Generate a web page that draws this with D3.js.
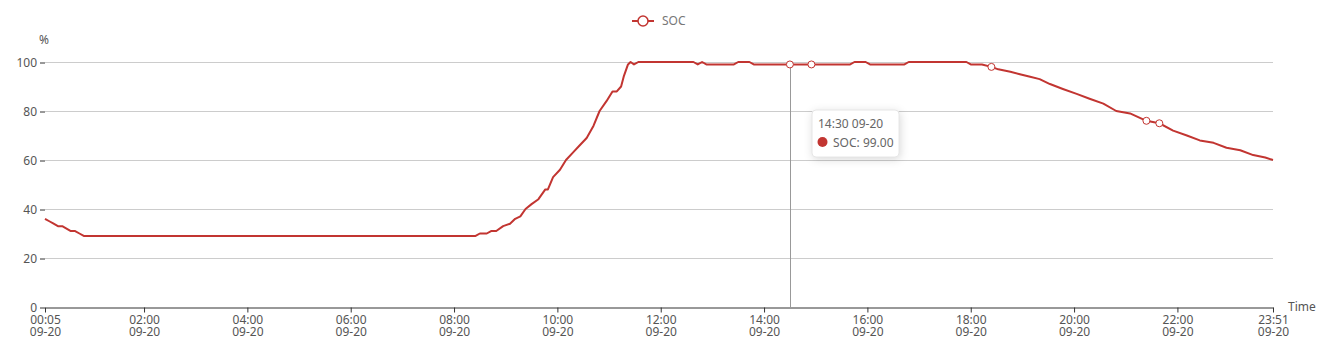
<!DOCTYPE html>
<html>
<head>
<meta charset="utf-8">
<script src="https://cdn.jsdelivr.net/npm/d3@7"></script>
<style>
  html, body { margin: 0; padding: 0; background: #fff; }
  svg { display: block; font-family: "Noto Sans", "DejaVu Sans", sans-serif; }
</style>
</head>
<body>
<div id="container"></div>
<script>
// SOC readings (time of day, percent)
const times = [
  "00:05","00:10","00:15","00:20","00:25","00:30","00:35","00:40","00:45","00:50",
  "08:25","08:30","08:38","08:43","08:49","08:57","09:05","09:11","09:17","09:23",
  "09:30","09:38","09:46","09:49","09:55","10:03","10:10","10:18","10:26","10:34",
  "10:42","10:49","10:57","11:04","11:09","11:14","11:17","11:22","11:25","11:29",
  "11:34","12:38","12:43","12:48","12:53","13:25","13:30","13:43","13:48","14:30",
  "14:55","15:40","15:45","15:58","16:03","16:43","16:48","17:55","18:00","18:13",
  "18:24","18:32","18:46","18:57","19:09","19:20","19:32","19:47","20:03","20:18",
  "20:34","20:49","21:05","21:24","21:39","21:55","22:11","22:26","22:42","22:57",
  "23:13","23:28","23:42","23:51"
]
const soc = [
  36,35,34,33,33,32,31,31,30,29,
  29,30,30,31,31,33,34,36,37,40,
  42,44,48,48,53,56,60,63,66,69,
  74,80,84,88,88,90,94,99,100,99,
  100,100,99,100,99,99,100,100,99,99,
  99,99,100,100,99,99,100,100,99,99,
  98,97,96,95,94,93,91,89,87,85,
  83,80,79,76,75,72,70,68,67,65,
  64,62,61,60
]
// points drawn with a hollow symbol
const markerTimes = ["14:30","14:55","18:24","21:24","21:39"]
const hoverTime = "14:30"

const xTickLabels = ["00:05","02:00","04:00","06:00","08:00","10:00","12:00","14:00","16:00","18:00","20:00","22:00","23:51"]
const dayLabel = "09-20"
const yTicks = [0, 20, 40, 60, 80, 100]
const seriesName = "SOC"

const width = 1325, height = 346
const lineColor = "#c23531"
const parseTime = d3.timeParse("%H:%M")

const svg = d3.create("svg")
  .attr("width", width)
  .attr("height", height)
container.append(svg.node())

const x = d3.scaleTime()
  .domain([parseTime(xTickLabels[0]), parseTime(xTickLabels[xTickLabels.length - 1])])
  .range([45, 1273])

const y = d3.scaleLinear()
  .domain([0, 100])
  .range([307, 62])

const data = times.map((t, i) => ({t: parseTime(t), v: soc[i], key: t}))

// grid lines
svg.append("g")
  .selectAll("line")
  .data(yTicks.filter(d => d > 0))
  .join("line")
  .attr("x1", x.range()[0])
  .attr("x2", x.range()[1])
  .attr("y1", d => y(d) + 0.5)
  .attr("y2", d => y(d) + 0.5)
  .style("stroke", "#ccc")
  .style("stroke-width", 1)

// y axis: ticks + labels, no line
const yAxis = svg.append("g")
  .attr("transform", `translate(${x.range()[0]},0.5)`)
  .call(d3.axisLeft(y).tickValues(yTicks).tickSize(5).tickPadding(3))
yAxis.select(".domain").remove()
yAxis.selectAll(".tick line").style("stroke", "#333")
yAxis.selectAll("text")
  .style("font-size", "12px")
  .style("fill", "#555")
  .style("font-family", "\"Noto Sans\", sans-serif")

svg.append("text")
  .attr("x", 44)
  .attr("y", 44)
  .attr("text-anchor", "middle")
  .style("font-size", "12px")
  .style("fill", "#555")
  .text("%")

// hover pointer line
svg.append("line")
  .attr("x1", Math.round(x(parseTime(hoverTime))) + 0.5)
  .attr("x2", Math.round(x(parseTime(hoverTime))) + 0.5)
  .attr("y1", y(100))
  .attr("y2", y(0))
  .style("stroke", "#999")
  .style("stroke-width", 1)

// x axis
const xAxis = svg.append("g")
  .attr("transform", `translate(0,${y(0) + 0.5})`)
  .call(d3.axisBottom(x)
    .tickValues(xTickLabels.map(parseTime))
    .tickSize(5)
    .tickSizeOuter(0)
    .tickFormat(""))
xAxis.select(".domain").style("stroke", "#333")
xAxis.selectAll(".tick line").style("stroke", "#333")
xAxis.selectAll(".tick")
  .data(xTickLabels)
  .each(function (d) {
    const t = d3.select(this).append("text")
      .attr("text-anchor", "middle")
      .attr("fill", "#555")
      .style("font-size", "12px")
      .style("font-family", "\"Noto Sans\", sans-serif")
    t.append("tspan").attr("x", 0).attr("y", 16).text(d)
    t.append("tspan").attr("x", 0).attr("y", 28).text(dayLabel)
  })

svg.append("text")
  .attr("x", 1288)
  .attr("y", y(0) + 4)
  .style("font-size", "12px")
  .style("fill", "#555")
  .text("Time")

// the SOC line
const line = d3.line()
  .x(d => x(d.t))
  .y(d => y(d.v))

svg.append("path")
  .datum(data)
  .attr("d", line)
  .style("fill", "none")
  .style("stroke", lineColor)
  .style("stroke-width", 2)
  .style("stroke-linejoin", "round")

svg.selectAll(".mk")
  .data(data.filter(d => markerTimes.includes(d.key)))
  .join("circle")
  .attr("class", "mk")
  .attr("cx", d => x(d.t))
  .attr("cy", d => y(d.v))
  .attr("r", 3.5)
  .style("fill", "#fff")
  .style("stroke", lineColor)
  .style("stroke-width", 1)

// legend
const legend = svg.append("g").attr("transform", "translate(632,21)")
legend.append("line")
  .attr("x1", 0).attr("x2", 22)
  .style("stroke", lineColor)
  .style("stroke-width", 2)
legend.append("circle")
  .attr("cx", 11)
  .attr("r", 5)
  .style("fill", "#fff")
  .style("stroke", lineColor)
  .style("stroke-width", 1.5)
legend.append("text")
  .attr("x", 30)
  .attr("y", 4)
  .style("font-size", "12px")
  .style("fill", "#777")
  .text(seriesName)

// tooltip
const hov = data.find(d => d.key === hoverTime)
const tip = svg.append("g").attr("transform", "translate(812,110)")
tip.append("rect")
  .attr("width", 87)
  .attr("height", 47)
  .attr("rx", 4)
  .style("fill", "#fff")
  .style("stroke", "#e6e6e6")
  .style("filter", "drop-shadow(1px 2px 4px rgba(0,0,0,0.15))")
tip.append("text")
  .attr("x", 6)
  .attr("y", 18)
  .style("font-size", "12px")
  .style("fill", "#666")
  .text(hoverTime + " " + dayLabel)
tip.append("circle")
  .attr("cx", 10.5)
  .attr("cy", 32)
  .attr("r", 5)
  .style("fill", lineColor)
tip.append("text")
  .attr("x", 21)
  .attr("y", 36.5)
  .style("font-size", "12px")
  .style("fill", "#666")
  .text(seriesName + ": " + hov.v.toFixed(2))
</script>
</body>
</html>
